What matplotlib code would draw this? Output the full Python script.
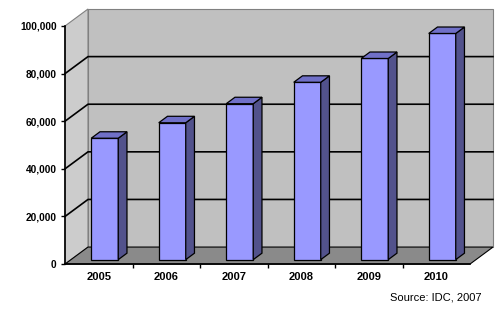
import numpy as np
import matplotlib
matplotlib.use("Agg")
import matplotlib.pyplot as plt
from matplotlib.patches import Polygon

years = ['2005', '2006', '2007', '2008', '2009', '2010']
values = [51000, 57500, 65500, 74500, 84500, 95000]
yticks = [0, 20000, 40000, 60000, 80000, 100000]
ytick_labels = ['0', '20,000', '40,000', '60,000', '80,000', '100,000']

plt.rcParams['font.family'] = ['Liberation Sans', 'DejaVu Sans']

fig = plt.figure(figsize=(5, 3.17), dpi=100)
ax = fig.add_axes([0.13, 0.167, 0.81, 0.751])
ax.set_xlim(-0.5, 5.5)
ax.set_ylim(0, 100000)
ax.patch.set_visible(False)

# depth of the 3d box in data units (about 23 px right, 17 px up)
ddx = 23 / (500 * 0.81 / 6)
ddy = 17 / (317 * 0.751 / 100000)


def pt(x, y, d):
    return (x + ddx * d, y + ddy * d)


def face(pts, fc, ec, lw=0.8, z=1):
    ax.add_patch(Polygon([pt(*p) for p in pts], closed=True, fc=fc, ec=ec,
                         lw=lw, zorder=z, clip_on=False))


x0, x1 = -0.5, 5.5
top = yticks[-1]

# walls and floor
face([(x0, 0, 1), (x1, 0, 1), (x1, top, 1), (x0, top, 1)], '#c0c0c0', '#808080')
face([(x0, 0, 0), (x0, 0, 1), (x0, top, 1), (x0, top, 0)], '#cccccc', '#808080')
face([(x0, 0, 0), (x1, 0, 0), (x1, 0, 1), (x0, 0, 1)], '#8a8a8a', 'black', z=1.5)

# gridlines across the left wall and back wall
for v in yticks[1:-1]:
    a, b, c = pt(x0, v, 0), pt(x0, v, 1), pt(x1, v, 1)
    ax.plot([a[0], b[0], c[0]], [a[1], b[1], c[1]], color='black', lw=1.2,
            zorder=2, clip_on=False)

# bars
f0, f1 = 0.26, 0.64
w = 0.4
xs = np.arange(len(years))
ax.bar(xs + ddx * f0, values, width=w, bottom=ddy * f0, color='#9999ff',
       edgecolor='black', lw=0.9, zorder=3)
for x, v in zip(xs, values):
    r = x + w / 2
    l = x - w / 2
    face([(r, 0, f0), (r, 0, f1), (r, v, f1), (r, v, f0)], '#52528c', 'black', lw=0.9, z=3)
    face([(l, v, f0), (r, v, f0), (r, v, f1), (l, v, f1)], '#7070c8', 'black', lw=0.9, z=3)

# axes
for s in ['top', 'right']:
    ax.spines[s].set_visible(False)
ax.spines['left'].set_linewidth(1.2)
ax.spines['bottom'].set_linewidth(1.2)

ax.set_yticks(yticks, ytick_labels)
ax.tick_params(axis='y', length=3, width=1, pad=3, labelsize=7.3)
ax.set_xticks(xs, years)
ax.set_xticks(xs[:-1] + 0.5, minor=True)
ax.tick_params(axis='x', which='major', length=0, pad=6, labelsize=8)
ax.tick_params(axis='x', which='minor', length=3, width=1)
for lab in ax.get_xticklabels() + ax.get_yticklabels():
    lab.set_fontweight('bold')

fig.text(0.964, 0.063, 'Source: IDC, 2007', ha='right', va='center', fontsize=8)

fig.savefig('out.png', dpi=100)
